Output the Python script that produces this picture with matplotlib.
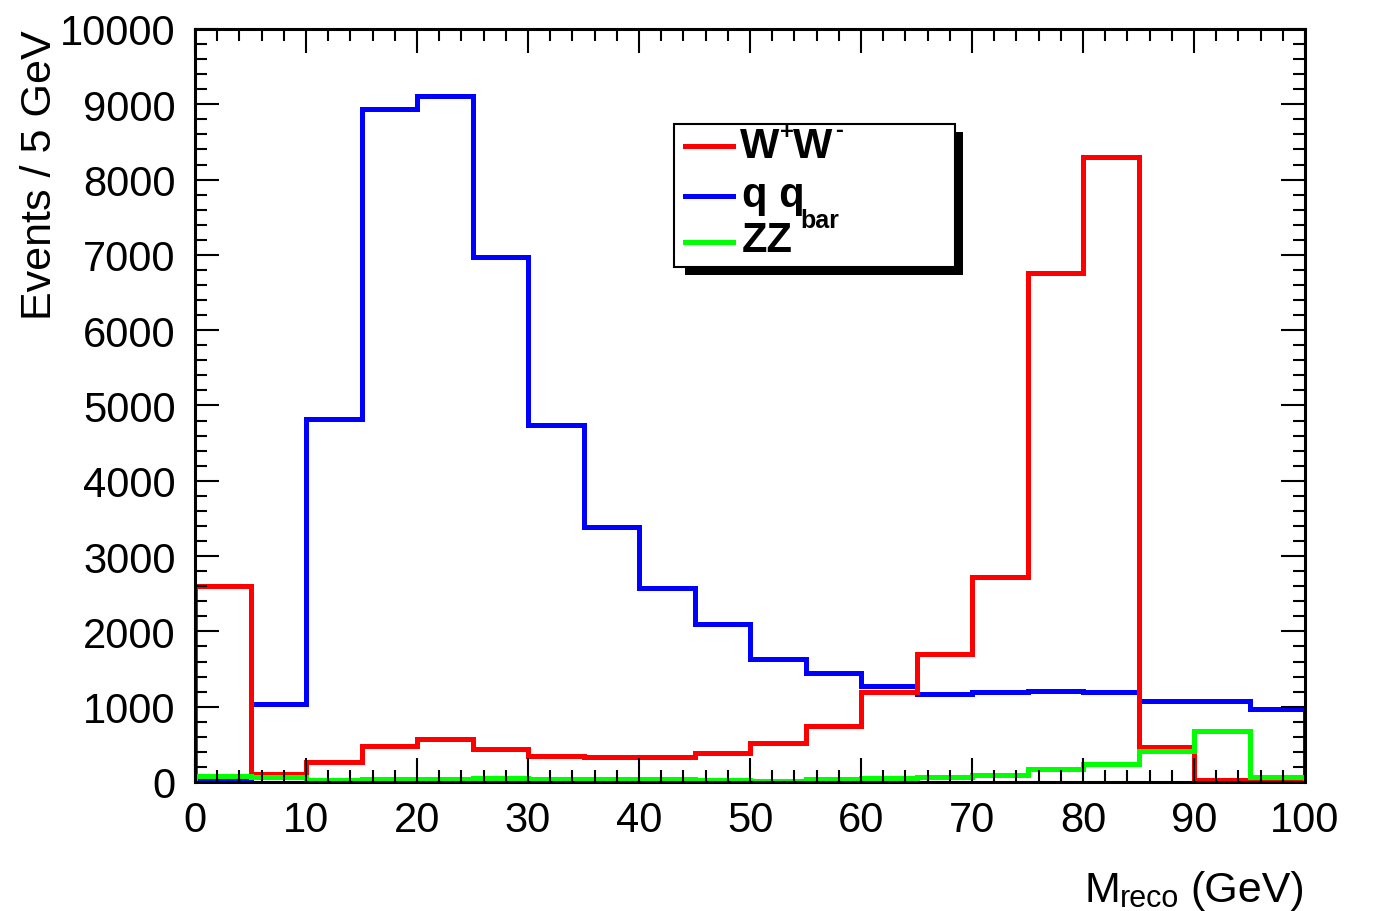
"""Reconstructed mass distribution: W+W-, q qbar and ZZ histograms (ROOT style)."""

import matplotlib
matplotlib.use("Agg")
import matplotlib.pyplot as plt
from matplotlib.lines import Line2D
from matplotlib.patches import Rectangle
from matplotlib.ticker import MultipleLocator

plt.rcParams["font.family"] = ["Liberation Sans", "DejaVu Sans"]

# bin edges, 5 GeV bins
edges = [0, 5, 10, 15, 20, 25, 30, 35, 40, 45, 50,
         55, 60, 65, 70, 75, 80, 85, 90, 95, 100]

ww = [2600, 100, 265, 475, 570, 440, 345, 330, 330, 385,
      520, 745, 1200, 1700, 2720, 6760, 8300, 465, 25, 15]
qq = [35, 1040, 4820, 8940, 9110, 6970, 4740, 3390, 2580, 2100,
      1630, 1450, 1275, 1170, 1195, 1210, 1195, 1075, 1080, 970]
zz = [80, 70, 20, 40, 45, 50, 35, 40, 35, 20,
      15, 40, 55, 70, 90, 170, 240, 415, 680, 70]

colors = ["#ff0000", "#0000ff", "#00ff00"]

W, H = 1373, 912
fig = plt.figure(figsize=(W / 100, H / 100), dpi=100)
ax = fig.add_axes([195 / W, 1 - 783 / H, (1305 - 195) / W, (783 - 30) / H])


def px_text(x, y, s, **kw):
    # place text by pixel position (origin top-left, like the reference image)
    return fig.text(x / W, 1 - y / H, s, **kw)


lw = 3.6
ax.stairs(qq, edges, color=colors[1], lw=lw, baseline=0)
ax.stairs(ww, edges, color=colors[0], lw=lw, baseline=0)
ax.stairs(zz, edges, color=colors[2], lw=lw, baseline=0)

ax.set_xlim(0, 100)
ax.set_ylim(0, 10000)
ax.xaxis.set_major_locator(MultipleLocator(10))
ax.xaxis.set_minor_locator(MultipleLocator(2))
ax.yaxis.set_major_locator(MultipleLocator(1000))
ax.yaxis.set_minor_locator(MultipleLocator(200))
ax.tick_params(which="both", direction="in", top=True, right=True,
               width=1.5, labelsize=30)
ax.tick_params(which="major", length=17)
ax.tick_params(which="minor", length=8.5)
ax.tick_params(axis="x", pad=13)
ax.tick_params(axis="y", pad=14)
for s in ax.spines.values():
    s.set_linewidth(2.2)

px_text(40, 30, "Events / 5 GeV", rotation=90, ha="center", va="top",
        fontsize=31)
# x title: M with a low-set "reco" subscript, then (GeV)
px_text(1085, 902, "M", ha="left", va="baseline", fontsize=31)
px_text(1120, 907, "reco", ha="left", va="baseline", fontsize=22)
px_text(1305, 902, "(GeV)", ha="right", va="baseline", fontsize=31)

# legend box with ROOT-style black shadow
bx0, by0, bx1, by1 = 674, 125, 955, 268
sh = 8
fig.patches.append(Rectangle(((bx0 + sh + 3) / W, 1 - (by1 + sh) / H),
                             (bx1 - bx0 - 3) / W, (by1 - by0) / H,
                             transform=fig.transFigure, facecolor="black",
                             edgecolor="none", zorder=5))
fig.patches.append(Rectangle((bx0 / W, 1 - by1 / H), (bx1 - bx0) / W,
                             (by1 - by0) / H, transform=fig.transFigure,
                             facecolor="white", edgecolor="black", lw=1.5,
                             zorder=6))
for c, ly in zip(colors, [147, 197, 243]):
    fig.lines.append(Line2D([685 / W, 733 / W], [1 - ly / H, 1 - ly / H],
                            transform=fig.transFigure, color=c, lw=lw,
                            zorder=7))

big = dict(fontsize=30, fontweight="bold", ha="left", va="baseline", zorder=8)
small = dict(fontsize=17, fontweight="bold", ha="left", va="baseline", zorder=9)
# W+W-
px_text(740, 158, "W", **big)
px_text(780, 139, "+", **small)
px_text(793, 158, "W", **big)
px_text(835, 137, "-", **small)
# q q_bar
px_text(742, 207, "q q", **big)
px_text(800, 228, "bar", fontsize=18, fontweight="bold", ha="left",
        va="baseline", zorder=8)
# ZZ
px_text(742, 252, "ZZ", **big)

fig.savefig("out.png", dpi=100)
